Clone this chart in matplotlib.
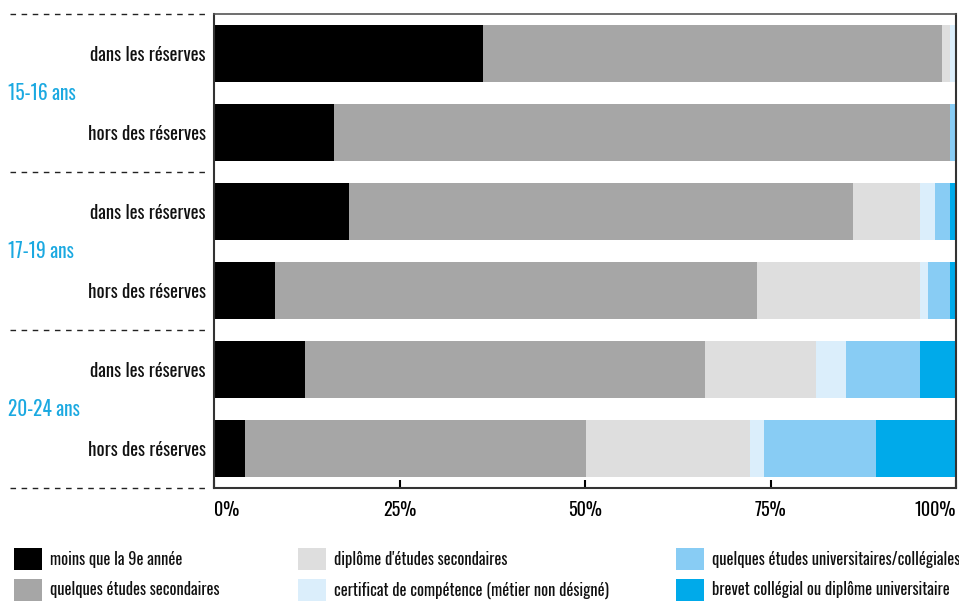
import matplotlib
matplotlib.use('Agg')
import matplotlib.pyplot as plt
from matplotlib.patches import Rectangle
from matplotlib.lines import Line2D
import numpy as np

plt.rcParams['font.family'] = ['Oswald', 'Barlow Condensed', 'DejaVu Sans']

# rows from top to bottom
row_labels = ['dans les réserves', 'hors des réserves'] * 3
groups = ['15-16 ans', '17-19 ans', '20-24 ans']

categories = ['moins que la 9e année', 'quelques études secondaires',
              "diplôme d'études secondaires",
              'certificat de compétence (métier non désigné)',
              'quelques études universitaires/collégiales',
              'brevet collégial ou diplôme universitaire']

moins_9e = [36.3, 16.2, 18.2, 8.2, 12.3, 4.2]
quelques_sec = [61.8, 83.0, 67.9, 65.0, 53.9, 45.9]
diplome_sec = [1.1, 0.0, 9.0, 21.9, 14.9, 22.1]
certificat = [0.8, 0.0, 2.1, 1.1, 4.1, 1.9]
quelques_univ = [0.0, 0.8, 2.0, 3.0, 9.9, 15.1]
brevet = [0.0, 0.0, 0.8, 0.8, 4.9, 10.8]

colors = ['#000000', '#a6a6a6', '#dedede', '#dbeefb', '#88ccf4', '#00aaea']
series = [moins_9e, quelques_sec, diplome_sec, certificat, quelques_univ, brevet]

W, H = 959, 601
fig = plt.figure(figsize=(W / 100, H / 100), dpi=100)
ax = fig.add_axes([214 / W, 1 - 488 / H, (956 - 214) / W, (488 - 14) / H])

y = np.arange(len(row_labels))
left = np.zeros(len(row_labels))
for vals, c in zip(series, colors):
    ax.barh(y, vals, left=left, height=0.72, color=c, linewidth=0)
    left += np.array(vals)

ax.set_xlim(0, 100)
ax.set_ylim(5.5, -0.5)
ax.set_yticks(y)
ax.set_yticklabels(row_labels, fontsize=13.5, fontweight=400, color='#111111')
ax.tick_params(axis='y', length=0, pad=6)
ax.set_xticks([0, 25, 50, 75, 100])
ax.set_xticklabels(['0%', '25%', '50%', '75%', '100%'], fontsize=13, fontweight=700)
ax.tick_params(axis='x', direction='in', length=6, width=1.5, pad=9)
for lbl, ha in zip(ax.get_xticklabels(), ['left', 'center', 'center', 'center', 'right']):
    lbl.set_ha(ha)
for s in ['left', 'bottom', 'right']:
    ax.spines[s].set_linewidth(1.5)
    ax.spines[s].set_color('#333333')
ax.spines['top'].set_color('#555555')
ax.spines['top'].set_linewidth(1.2)

# dashed separators and group labels
for yy in [-0.5, 1.5, 3.5, 5.5]:
    ax.add_line(Line2D([-0.275, -0.005], [yy, yy], transform=ax.get_yaxis_transform(),
                       color='#222222', lw=1, ls=(0, (4, 4)), clip_on=False))
for i, g in enumerate(groups):
    ax.text(-0.278, 2 * i + 0.5, g, transform=ax.get_yaxis_transform(), color='#1ba9e1',
            fontsize=14, fontweight=600, ha='left', va='center')

# legend
leg_x = [14, 298, 676]
leg_y = [559, 590]
for k, (name, c) in enumerate(zip(categories, colors)):
    col, row = k // 2, k % 2
    x0, yc = leg_x[col], leg_y[row]
    fig.add_artist(Rectangle((x0 / W, 1 - (yc + 11) / H), 28 / W, 22 / H,
                             transform=fig.transFigure, color=c, lw=0))
    fig.text((x0 + 36) / W, 1 - yc / H, name, fontsize=11.8, fontweight=400,
             color='#111111', va='center', ha='left')

fig.savefig('out.png', dpi=100)
